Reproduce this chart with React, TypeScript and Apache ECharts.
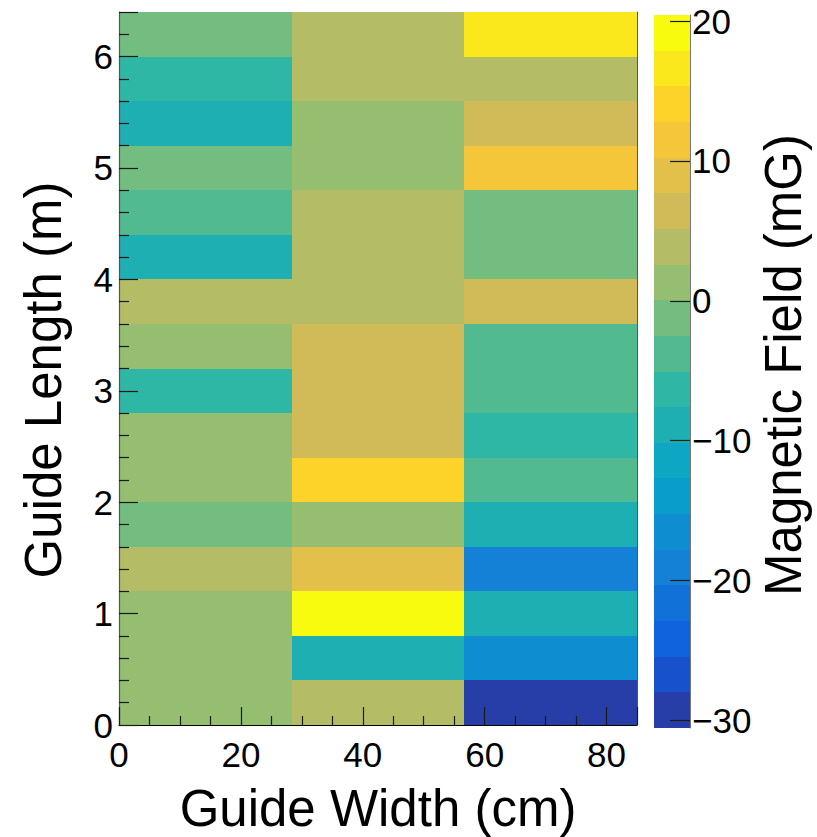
import React, { useEffect, useRef } from 'react';
import * as echarts from 'echarts';

// ---------- data ----------
const xRange = [0, 85]; // Guide Width (cm)
const yRange = [0, 6.4]; // Guide Length (m)
const nBinsX = 3;
const nBinsY = 16;

// Magnetic field (mG) per width column, rows listed from bottom (0 m) to top (6.4 m)
const colA = [1.6, 1.8, 1.5, 4.0, -0.8, 1.5, 1.5, -6.3, 1.3, 3.9, -9.0, -3.8, -1.0, -8.9, -6.3, -1.2];
const colB = [3.5, -8.5, 20.43, 9.0, 1.9, 14.0, 7.0, 6.2, 6.5, 3.9, 4.4, 3.5, 1.2, 1.8, 4.2, 3.8];
const colC = [-30.54, -16.5, -9.0, -19.0, -8.8, -3.2, -6.5, -4.0, -3.5, 7.2, -1.2, -1.5, 11.5, 6.8, 4.3, 16.5];
const columns = [colA, colB, colC];

const xTickStep = 20;
const yTickStep = 1;
const zTickValues = [-30, -20, -10, 0, 10, 20];

const xTitle = 'Guide Width (cm)';
const yTitle = 'Guide Length (m)';
const zTitle = 'Magnetic Field (mG)';

// ---------- palette (ROOT kBird) ----------
const birdStops = [0, 0.125, 0.25, 0.375, 0.5, 0.625, 0.75, 0.875, 1];
const birdR = [0.2082, 0.0592, 0.078, 0.0232, 0.1802, 0.5301, 0.8186, 0.9956, 0.9764];
const birdG = [0.1664, 0.3599, 0.5041, 0.6419, 0.7178, 0.7492, 0.7328, 0.7862, 0.9832];
const birdB = [0.5293, 0.8684, 0.8385, 0.7914, 0.6425, 0.4662, 0.3499, 0.1968, 0.0539];
const nContours = 20;
const nPalette = 255;

function birdColor(t: number): string {
  let k = 0;
  while (k < birdStops.length - 2 && t > birdStops[k + 1]) k++;
  const f = (t - birdStops[k]) / (birdStops[k + 1] - birdStops[k]);
  const ch = (a: number[]) => Math.round(255 * (a[k] + (a[k + 1] - a[k]) * f));
  return `rgb(${ch(birdR)},${ch(birdG)},${ch(birdB)})`;
}
const bandColors = Array.from({ length: nContours }, (_, i) => {
  const c = Math.floor(((i + 0.99) * nPalette) / nContours);
  return birdColor(c / (nPalette - 1));
});

const allValues = columns.flat();
const zMin = Math.min(...allValues);
const zMax = Math.max(...allValues);

function colorFor(z: number): string {
  let idx = Math.floor(((z - zMin) / (zMax - zMin)) * nContours);
  if (idx < 0) idx = 0;
  if (idx >= nContours) idx = nContours - 1;
  return bandColors[idx];
}

const FONT = '"Liberation Sans", Arial, Helvetica, sans-serif';
const fmtMinus = (v: number) => (v < 0 ? '\u2212' + Math.abs(v) : String(v));

export default function App() {
  const ref = useRef<HTMLDivElement>(null);
  useEffect(() => {
    if (!ref.current) return;
    const chart = echarts.init(ref.current, undefined, { renderer: 'svg' });

    const dx = (xRange[1] - xRange[0]) / nBinsX;
    const dy = (yRange[1] - yRange[0]) / nBinsY;
    const cells: number[][] = [];
    columns.forEach((col, ix) => {
      col.forEach((z, iy) => {
        cells.push([xRange[0] + ix * dx, xRange[0] + (ix + 1) * dx, yRange[0] + iy * dy, yRange[0] + (iy + 1) * dy, z]);
      });
    });
    const dz = (zMax - zMin) / nContours;
    const bands: number[][] = [];
    for (let i = 0; i < nContours; i++) {
      bands.push([0, 1, zMin + i * dz, zMin + (i + 1) * dz, zMin + (i + 0.5) * dz]);
    }

    const renderRect = (params: any, api: any) => {
      const p0 = api.coord([api.value(0), api.value(2)]);
      const p1 = api.coord([api.value(1), api.value(3)]);
      const x0 = Math.round(p0[0]);
      const x1 = Math.round(p1[0]);
      const yb = Math.round(p0[1]);
      const yt = Math.round(p1[1]);
      return {
        type: 'rect',
        shape: { x: x0, y: yt, width: x1 - x0, height: yb - yt },
        style: { fill: colorFor(api.value(4)) },
      };
    };

    const tickStyle = { color: '#1a1a1a', width: 1.2 };
    const labelBase = { fontFamily: FONT, fontSize: 35, color: '#000' };

    chart.setOption({
      animation: false,
      backgroundColor: '#ffffff',
      grid: [
        { left: 119, top: 12, width: 518, height: 713 },
        { left: 654, top: 15, width: 36, height: 713 },
      ],
      xAxis: [
        {
          gridIndex: 0,
          type: 'value',
          z: 10,
          min: xRange[0],
          max: xRange[1],
          interval: xTickStep,
          axisLine: { show: true, onZero: false, lineStyle: { color: '#000', width: 1.2 } },
          axisTick: { show: true, inside: true, length: 18, lineStyle: tickStyle },
          minorTick: { show: true, splitNumber: 4, length: 9, lineStyle: tickStyle },
          splitLine: { show: false },
          axisLabel: { ...labelBase, margin: 12, showMaxLabel: false },
        },
        { gridIndex: 1, type: 'value', min: 0, max: 1, show: false },
      ],
      yAxis: [
        {
          gridIndex: 0,
          type: 'value',
          z: 10,
          min: yRange[0],
          max: yRange[1],
          interval: yTickStep,
          axisLine: { show: true, onZero: false, lineStyle: { color: '#555', width: 1.2 } },
          axisTick: { show: true, inside: true, length: 19, lineStyle: tickStyle },
          minorTick: { show: true, splitNumber: 5, length: 10, lineStyle: tickStyle },
          splitLine: { show: false },
          axisLabel: { ...labelBase, margin: 6, showMaxLabel: false },
        },
        {
          gridIndex: 0,
          type: 'value',
          z: 10,
          position: 'right',
          min: yRange[0],
          max: yRange[1],
          axisLine: { show: true, onZero: false, lineStyle: { color: '#555', width: 1 } },
          axisTick: { show: false },
          axisLabel: { show: false },
          splitLine: { show: false },
        },
        {
          gridIndex: 1,
          type: 'value',
          z: 10,
          position: 'right',
          min: zMin,
          max: zMax,
          axisLine: { show: true, onZero: false, lineStyle: { color: '#777', width: 1 } },
          axisTick: { show: true, inside: true, length: 20, customValues: zTickValues, lineStyle: tickStyle },
          splitLine: { show: false },
          axisLabel: { ...labelBase, margin: 2, customValues: zTickValues, formatter: fmtMinus },
        },
      ],
      series: [
        {
          type: 'custom',
          xAxisIndex: 0,
          yAxisIndex: 0,
          silent: true,
          data: cells,
          encode: { x: [0, 1], y: [2, 3] },
          renderItem: renderRect,
          z: 1,
        },
        {
          type: 'custom',
          xAxisIndex: 1,
          yAxisIndex: 2,
          silent: true,
          data: bands,
          encode: { x: [0, 1], y: [2, 3] },
          renderItem: renderRect,
          z: 1,
        },
      ],
      graphic: [
        {
          type: 'text',
          x: 378,
          y: 808,
          style: { text: xTitle, fontFamily: FONT, fontSize: 51, fill: '#000', align: 'center', verticalAlign: 'middle' },
        },
        {
          type: 'text',
          x: 43,
          y: 380,
          rotation: Math.PI / 2,
          style: { text: yTitle, fontFamily: FONT, fontSize: 51, fill: '#000', align: 'center', verticalAlign: 'middle' },
        },
        {
          type: 'text',
          x: 783,
          y: 365,
          rotation: Math.PI / 2,
          style: { text: zTitle, fontFamily: FONT, fontSize: 51, fill: '#000', align: 'center', verticalAlign: 'middle' },
        },
      ],
    });
    return () => chart.dispose();
  }, []);

  return <div ref={ref} style={{ position: 'fixed', left: 0, top: 0, width: 817, height: 837 }} />;
}
